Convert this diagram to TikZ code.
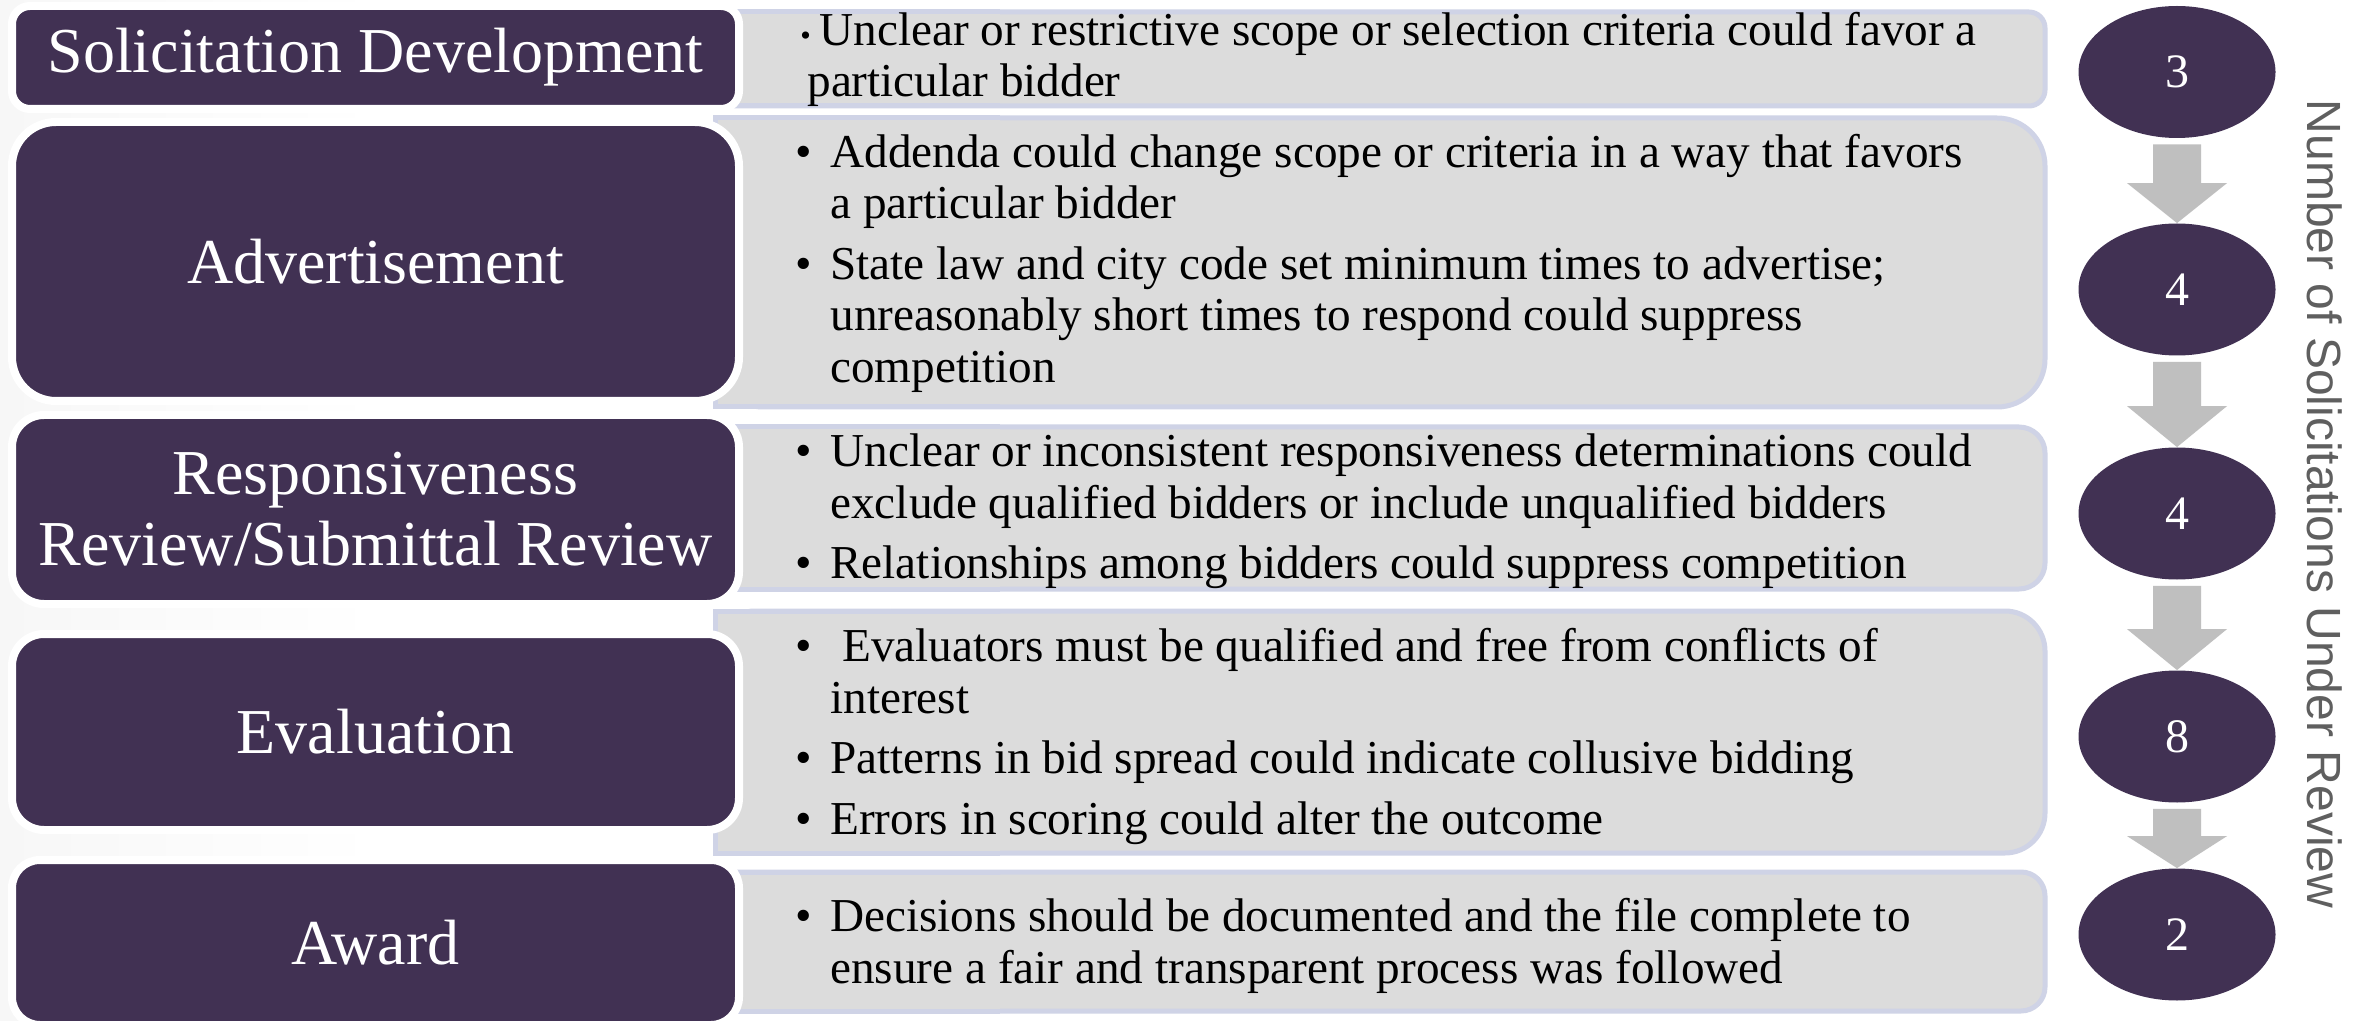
\documentclass[tikz,border=0pt]{standalone}
\usepackage{fontspec}
\setmainfont{Liberation Serif}
\newfontfamily\sidefont{Liberation Sans}
\usetikzlibrary{calc,shapes.geometric}
\definecolor{purp}{RGB}{65,49,83}
\definecolor{gfill}{RGB}{220,220,220}
\definecolor{gline}{RGB}{207,211,230}
\definecolor{agray}{RGB}{191,191,191}
\definecolor{sidegray}{RGB}{95,95,95}
\definecolor{bgL}{RGB}{224,224,224}
\definecolor{bgM}{RGB}{237,237,237}
\definecolor{bgR}{RGB}{214,214,214}
\pgfdeclarehorizontalshading{bgsh}{100bp}{color(0bp)=(bgL); color(15bp)=(bgM); color(33bp)=(white); color(84bp)=(white); color(92bp)=(bgM); color(100bp)=(bgR)}
\newcommand\nl{\hfil\break}
\newcommand\bitem[1]{\hangindent=17.5pt\hangafter=1\noindent\makebox[17.5pt][l]{\textbullet}#1}
\newcommand\gtxt[1]{\parbox[t]{640pt}{\fontsize{23.6}{25.75}\selectfont\setlength{\parskip}{4.5pt}\setlength{\parindent}{0pt}#1}}
\newcommand\graybox[3]{%
  \draw[gbox, rounded corners=#3] (715,#1) rectangle (2045,#2);
  \fill[gfill] (715,#1) rectangle (1000,#2);
  \draw[gline, line width=2.5pt] (1000,#1) -- (715,#1) -- (715,#2) -- (1000,#2);}
\newcommand\blockarrow[3]{%
  \fill[agray] ($(#1.south)+(-24,6)$) -- ($(#1.south)+(24,6)$) -- ($(#2.north)+(24,-#3)$) -- ($(#2.north)+(50,-#3)$) -- (#2.north) -- ($(#2.north)+(-50,-#3)$) -- ($(#2.north)+(-24,-#3)$) -- cycle;}
\begin{document}
\begin{tikzpicture}[x=0.5pt,y=-0.5pt,
  pbox/.style={rectangle, rounded corners=#1, fill=purp, draw=white, line width=4pt,
    text=white, font=\fontsize{32}{35.5}\selectfont, align=center, inner sep=0pt,
    minimum width=363.5pt},
  gbox/.style={fill=gfill, draw=gline, line width=2.5pt},
  gtext/.style={anchor=base west, inner sep=0pt, text=black},
  ell/.style={ellipse, fill=purp, text=white, minimum width=98.5pt, minimum height=66pt,
    inner sep=0pt, font=\fontsize{24}{24}\selectfont}
]
\useasboundingbox (0,0) rectangle (2366,1021);
\shade[shading=bgsh] (0,0) rectangle (2366,1021);

% gray text boxes
\graybox{12}{106}{8pt}
\graybox{118}{407}{24pt}
\graybox{427}{589}{13pt}
\graybox{611}{853}{20pt}
\graybox{872}{1011}{12pt}

% purple stage boxes
\node[pbox=9pt, minimum height=51.5pt] (s1) at (375.5,57.5) {Solicitation Development};
\node[pbox=22pt, minimum height=139.5pt] (s2) at (375.5,261.5) {Advertisement};
\node[pbox=16pt, minimum height=94.5pt] (s3) at (375.5,509.5) {Responsiveness\\Review/Submittal Review};
\node[pbox=16pt, minimum height=98pt] (s4) at (375.5,732) {Evaluation};
\node[pbox=14pt, minimum height=82.5pt] (s5) at (375.5,942.5) {Award};

% texts
\node[gtext] (t1) at (800,45.5) {\gtxt{\hangindent=3.5pt\hangafter=1\noindent\makebox[9.5pt][l]{\fontsize{15}{15}\selectfont\textbullet}Unclear or restrictive scope or selection criteria could favor a\nl particular bidder}};
\node[gtext] (t2) at (795,167.5) {\gtxt{\bitem{Addenda could change scope or criteria in a way that favors\nl a particular bidder}\par\bitem{State law and city code set minimum times to advertise;\nl unreasonably short times to respond could suppress\nl competition}}};
\node[gtext] (t3) at (795,466.5) {\gtxt{\bitem{Unclear or inconsistent responsiveness determinations could\nl exclude qualified bidders or include unqualified bidders}\par\bitem{Relationships among bidders could suppress competition}}};
\node[gtext] (t4) at (795,661.5) {\gtxt{\bitem{\ Evaluators must be qualified and free from conflicts of\nl interest}\par\bitem{Patterns in bid spread could indicate collusive bidding}\par\bitem{Errors in scoring could alter the outcome}}};
\node[gtext] (t5) at (795,931.5) {\gtxt{\bitem{Decisions should be documented and the file complete to\nl ensure a fair and transparent process was followed}}};

% number ellipses
\node[ell] (e1) at (2177,72) {3};
\node[ell] (e2) at (2177,289.5) {4};
\node[ell] (e3) at (2177,513.5) {4};
\node[ell] (e4) at (2177,736.5) {8};
\node[ell] (e5) at (2177,934.5) {2};

\blockarrow{e1}{e2}{40}
\blockarrow{e2}{e3}{41}
\blockarrow{e3}{e4}{41}
\blockarrow{e4}{e5}{32}

\node[rotate=-90, font=\sidefont\fontsize{24}{28}\selectfont, text=sidegray, inner sep=0pt] (side) at (2325,504) {Number of Solicitations Under Review};
\end{tikzpicture}
\end{document}
